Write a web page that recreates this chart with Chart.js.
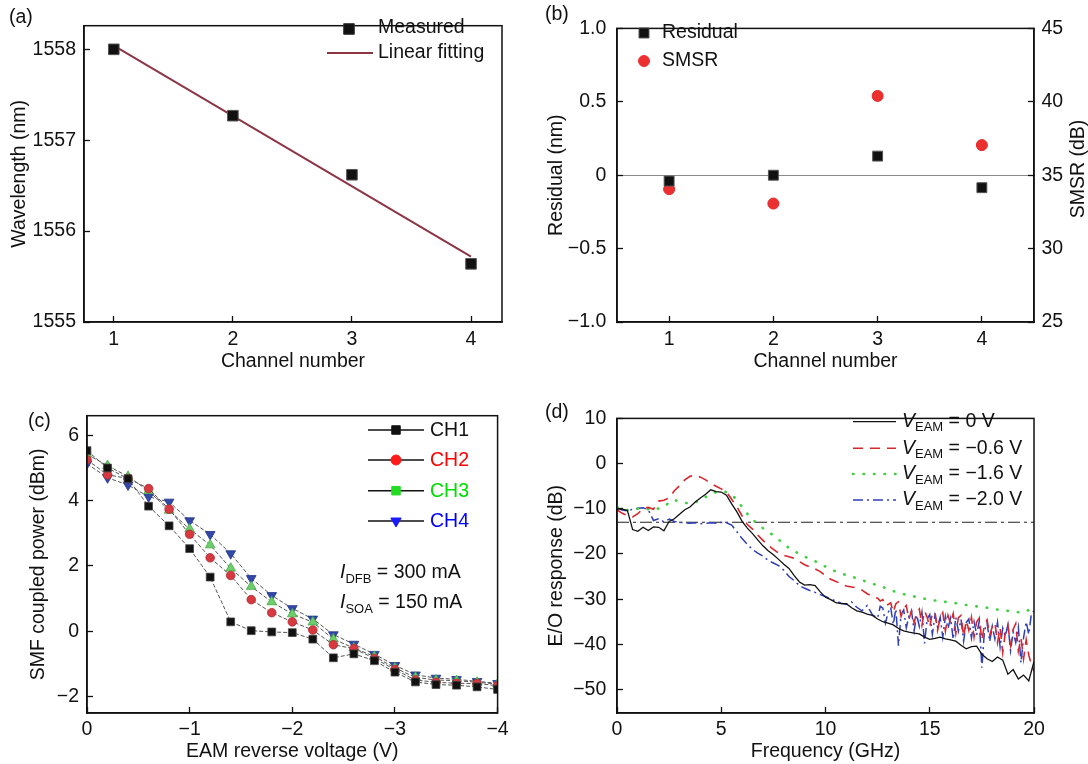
<!DOCTYPE html>
<html>
<head>
<meta charset="utf-8">
<script src="https://cdn.jsdelivr.net/npm/chart.js@4.4.1/dist/chart.umd.min.js"></script>
<style>
html, body { margin: 0; padding: 0; background: #fff; }
#wrap { position: relative; width: 1088px; height: 764px; overflow: hidden; }
canvas { position: absolute; }
</style>
</head>
<body>
<div id="wrap">
  <canvas id="ca" width="520" height="380" style="left:0;top:0"></canvas>
  <canvas id="cb" width="568" height="380" style="left:520px;top:0"></canvas>
  <canvas id="cc" width="520" height="374" style="left:0;top:390px"></canvas>
  <canvas id="cd" width="568" height="374" style="left:520px;top:390px"></canvas>
</div>
<script>
// ---- (a) wavelength vs channel
const channels = [1, 2, 3, 4];
const wavelengthNm = [1558.00, 1557.27, 1556.62, 1555.64];
const fitChannels = [1, 4];
const fitNm = [1558.04, 1555.72];
const aYTicks = [1555, 1556, 1557, 1558];

// ---- (b) residual + SMSR
const residualNm = [-0.04, 0.0, 0.13, -0.085];
const smsrDb = [34.05, 33.07, 40.4, 37.05];
const bLeftTicks = [-1, -0.5, 0, 0.5, 1];
const bRightTicks = [25, 30, 35, 40, 45];

// ---- (c) SMF coupled power vs EAM voltage
const chNames = ['CH1', 'CH2', 'CH3', 'CH4'];
const eamVolt = [0, -0.2, -0.4, -0.6, -0.8, -1.0, -1.2, -1.4, -1.6, -1.8, -2.0,
                 -2.2, -2.4, -2.6, -2.8, -3.0, -3.2, -3.4, -3.6, -3.8, -4.0];
const ch1 = [5.53, 5.0, 4.67, 3.83, 3.23, 2.53, 1.66, 0.29, 0.02, -0.02, -0.04,
             -0.24, -0.81, -0.69, -0.9, -1.25, -1.55, -1.63, -1.65, -1.7, -1.78];
const ch2 = [5.25, 4.79, 4.68, 4.37, 3.74, 2.97, 2.25, 1.71, 0.97, 0.57, 0.29,
             0.04, -0.41, -0.53, -0.83, -1.17, -1.49, -1.56, -1.59, -1.6, -1.66];
const ch3 = [5.42, 5.07, 4.74, 4.3, 3.7, 3.13, 2.64, 1.93, 1.37, 0.9, 0.53,
             0.28, -0.24, -0.51, -0.77, -1.12, -1.41, -1.49, -1.51, -1.56, -1.61];
const ch4 = [5.13, 4.7, 4.48, 4.12, 3.96, 3.39, 2.97, 2.38, 1.62, 1.1, 0.7,
             0.38, -0.1, -0.39, -0.7, -1.04, -1.33, -1.43, -1.47, -1.53, -1.59];
const cXTicks = [0, -1, -2, -3, -4];
const cYTicks = [-2, 0, 2, 4, 6];

// ---- (d) E/O response
const biasV = [0, -0.6, -1.6, -2.0];
const freqGHz = [0, 0.25, 0.5, 0.75, 1, 1.25, 1.5, 1.75, 2, 2.25, 2.5, 2.75, 3, 3.25, 3.5, 3.75,
  4, 4.25, 4.5, 4.75, 5, 5.25, 5.5, 5.75, 6, 6.25, 6.5, 6.75, 7, 7.25, 7.5, 7.75,
  8, 8.25, 8.5, 8.75, 9, 9.25, 9.5, 9.75, 10, 10.25, 10.5, 10.75, 11, 11.25, 11.5, 11.75,
  12, 12.25, 12.5, 12.75, 13, 13.25, 13.5, 13.75, 14, 14.25, 14.5, 14.75, 15, 15.25, 15.5, 15.75,
  16, 16.25, 16.5, 16.75, 17, 17.25, 17.5, 17.75, 18, 18.25, 18.5, 18.75, 19, 19.25, 19.5, 19.75, 20];
// finer sampling for the noisy high-frequency part of the -0.6 V and -2.0 V traces
const freqFine = [12.5, 12.625, 12.75, 12.875, 13, 13.125, 13.25, 13.375, 13.5, 13.625, 13.75, 13.875,
  14, 14.125, 14.25, 14.375, 14.5, 14.625, 14.75, 14.875, 15, 15.125, 15.25, 15.375, 15.5, 15.625, 15.75, 15.875,
  16, 16.125, 16.25, 16.375, 16.5, 16.625, 16.75, 16.875, 17, 17.125, 17.25, 17.375, 17.5, 17.625, 17.75, 17.875,
  18, 18.125, 18.25, 18.375, 18.5, 18.625, 18.75, 18.875, 19, 19.125, 19.25, 19.375, 19.5, 19.625, 19.75, 19.875, 20];
const eo0V = [-10.0, -10.1, -10.4, -14.6, -15.0, -14.1, -14.8, -14.0, -14.1, -14.9, -12.8, -12.2, -11.2, -10.2, -9.6, -8.5,
  -7.6, -6.8, -5.8, -6.2, -6.3, -7.0, -8.9, -10.7, -12.8, -14.3, -15.5, -16.9, -18.2, -19.3, -20.2, -21.2,
  -22.3, -23.2, -24.8, -26.2, -26.9, -26.8, -27.0, -28.4, -29.6, -30.1, -30.8, -31.0, -31.0, -31.9, -32.6, -32.9,
  -33.3, -33.6, -34.4, -35.0, -35.3, -35.7, -36.5, -37.0, -37.3, -37.5, -37.7, -38.4, -38.9, -38.7, -38.4, -38.8,
  -39.0, -39.3, -40.2, -41.0, -40.5, -40.4, -42.2, -43.2, -43.8, -42.8, -43.5, -46.6, -45.6, -47.7, -46.8, -48.1, -43.8];
const eo06VLow = [-10.2, -11.0, -11.5, -11.8, -11.1, -9.9, -9.7, -10.1, -8.3, -8.1, -7.6, -6.0, -4.9, -3.6, -2.8, -2.6,
  -3.0, -3.6, -4.4, -5.0, -5.6, -6.3, -7.9, -9.6, -11.6, -13.5, -14.5, -15.8, -17.0, -18.1, -19.0, -19.8,
  -20.3, -20.6, -21.0, -21.7, -22.4, -22.9, -23.3, -23.9, -24.8, -25.6, -26.1, -26.6, -27.1, -27.3, -27.5, -28.0,
  -28.8, -29.4];
const eo06VHigh = [-29.8, -30.4, -30.1, -31.5, -31.2, -30.8, -32.9, -31.0, -30.6, -33.8, -32.1, -31.4,
  -34.5, -32.6, -35.2, -33.0, -32.2, -35.8, -32.6, -34.0, -36.2, -33.1, -32.8, -36.9, -34.2, -33.0, -37.1, -33.6,
  -35.4, -33.2, -37.6, -34.1, -33.6, -38.3, -34.7, -36.9, -34.0, -38.4, -35.0, -34.2, -39.1, -35.6, -34.6, -38.0,
  -36.1, -35.2, -39.6, -36.3, -41.8, -37.4, -35.8, -40.2, -36.7, -35.4, -41.5, -38.6, -43.2, -39.0, -42.4, -44.5, -46.0];
const eo16V = [-9.6, -10.0, -10.3, -10.1, -10.0, -9.9, -10.1, -10.4, -9.9, -9.6, -8.6, -8.0, -8.5, -8.7, -8.8, -8.6,
  -8.1, -7.4, -6.8, -6.3, -6.1, -6.3, -6.9, -8.0, -9.6, -11.1, -12.4, -13.3, -14.3, -15.1, -15.9, -16.8,
  -17.8, -18.7, -19.4, -20.0, -20.6, -21.1, -21.6, -22.2, -22.8, -23.4, -23.9, -24.3, -24.7, -25.0, -25.4, -25.8,
  -26.2, -26.6, -26.9, -27.3, -27.8, -28.2, -28.6, -28.9, -29.2, -29.4, -29.7, -29.9, -30.1, -30.3, -30.4, -30.6,
  -30.8, -30.9, -31.1, -31.3, -31.5, -31.6, -31.7, -31.9, -32.1, -32.3, -32.4, -32.6, -32.8, -32.9, -33.0, -32.4, -31.8];
const eo20VLow = [-9.8, -10.3, -10.5, -10.1, -9.9, -9.8, -10.2, -12.6, -12.2, -12.9, -12.3, -12.8, -13.0, -13.1, -13.2, -13.1,
  -13.3, -13.2, -13.1, -13.2, -13.0, -13.1, -13.6, -15.1, -16.6, -17.9, -19.0, -19.8, -20.5, -21.4, -22.0, -22.6,
  -23.6, -25.0, -25.9, -27.0, -27.6, -28.1, -28.5, -29.0, -29.4, -30.0, -30.4, -30.9, -31.2, -30.6, -31.8, -32.6,
  -31.4, -33.5];
const eo20VHigh = [-34.2, -31.6, -32.0, -35.3, -33.0, -31.8, -35.6, -32.2, -40.3, -33.4, -32.4, -36.3,
  -33.8, -32.6, -37.0, -33.5, -36.0, -32.9, -39.8, -34.4, -33.4, -37.8, -33.6, -36.2, -34.0, -38.4, -33.8, -36.5,
  -34.2, -38.9, -34.0, -37.1, -34.5, -39.3, -35.2, -34.4, -38.6, -35.0, -37.9, -34.8, -45.2, -36.9, -35.3, -39.4,
  -36.0, -38.8, -35.1, -40.6, -36.4, -38.2, -35.6, -41.4, -37.3, -39.6, -36.2, -44.1, -38.5, -35.0, -37.8, -33.2, -32.6];
const refLevelDb = -13;
const dXTicks = [0, 5, 10, 15, 20];
const dYTicks = [-50, -40, -30, -20, -10, 0, 10];

// ---- shared styling
const FAMILY = "'Liberation Sans', Arial, sans-serif";
const SIZE = 19.5, SUB = 13;
const FONT = {family: FAMILY, size: SIZE};
const INK = '#111';
const minus = v => String(v).replace('-', '\u2212');
const pts = (xs, ys) => xs.map((x, i) => ({x: x, y: ys[i]}));

function axis(o) {
  return {
    type: 'linear', position: o.pos, min: o.min, max: o.max, reverse: !!o.reverse,
    afterBuildTicks: s => { s.ticks = o.ticks.map(v => ({value: v})); },
    afterFit: s => { if (s.isHorizontal()) s.height = o.size; else s.width = o.size; },
    border: {display: true, color: INK, width: 1.5},
    grid: {display: true, drawOnChartArea: !!o.grid, color: o.grid || 'rgba(0,0,0,0)',
           tickLength: -6, tickColor: INK, tickWidth: 1.3},
    ticks: {font: FONT, color: INK, padding: o.pad, callback: o.fmt || minus, maxRotation: 0, autoSkip: false},
    title: {display: !!o.title, text: o.title, font: FONT, color: INK,
            padding: o.pos === 'bottom' ? {top: 0, bottom: o.titlePad} : {top: o.titlePad, bottom: 0}}
  };
}

const frame = {
  id: 'frame',
  afterDraw(chart) {
    const {ctx, chartArea: a} = chart;
    ctx.save();
    ctx.strokeStyle = INK;
    ctx.lineWidth = 1.5;
    ctx.strokeRect(a.left, a.top, a.right - a.left, a.bottom - a.top);
    ctx.restore();
  }
};

function drawRich(ctx, it) {
  const fontOf = p => (p.it ? 'italic ' : '') + (p.sub ? SUB : SIZE) + 'px ' + FAMILY;
  let w = 0;
  it.parts.forEach(p => { ctx.font = fontOf(p); w += ctx.measureText(p.t).width; });
  ctx.translate(it.x, it.y);
  if (it.rot) ctx.rotate(it.rot * Math.PI / 180);
  let cx = it.align === 'center' ? -w / 2 : 0;
  ctx.textBaseline = 'middle';
  ctx.textAlign = 'left';
  it.parts.forEach(p => {
    ctx.font = fontOf(p);
    ctx.fillStyle = it.color || INK;
    ctx.fillText(p.t, cx, p.sub ? 6 : 0);
    cx += ctx.measureText(p.t).width;
  });
}

// legend samples and free texts drawn on top of the chart
function notes(items) {
  return {
    id: 'notes',
    afterDraw(chart) {
      const ctx = chart.ctx;
      items.forEach(it => {
        ctx.save();
        if (it.line) {
          ctx.strokeStyle = it.line.color;
          ctx.lineWidth = it.line.width;
          ctx.setLineDash(it.line.dash || []);
          ctx.lineCap = it.line.cap || 'butt';
          ctx.beginPath(); ctx.moveTo(it.x0, it.y); ctx.lineTo(it.x1, it.y); ctx.stroke();
          ctx.setLineDash([]);
        }
        if (it.marker) {
          const m = it.marker;
          ctx.fillStyle = m.fill;
          ctx.strokeStyle = m.stroke || m.fill;
          ctx.lineWidth = 1;
          Chart.helpers.drawPoint(ctx, {pointStyle: m.style, radius: m.radius, rotation: m.rotation || 0, borderWidth: 1}, it.mx, it.y);
        }
        if (it.parts) drawRich(ctx, it);
        ctx.restore();
      });
    }
  };
}
const txt = (x, y, s, extra) => Object.assign({x: x, y: y, parts: [{t: s}]}, extra || {});

const base = pad => ({
  responsive: false, animation: false, devicePixelRatio: 1,
  layout: {padding: pad},
  plugins: {legend: {display: false}, tooltip: {enabled: false}},
  elements: {line: {tension: 0}}
});

// ---------- (a)
new Chart(document.getElementById('ca'), {
  type: 'line',
  data: {datasets: [
    {data: pts(channels, wavelengthNm), showLine: false, pointStyle: 'rect', pointRadius: 7.5,
     pointBackgroundColor: '#111', pointBorderColor: '#555', pointBorderWidth: 1},
    {data: pts(fitChannels, fitNm), showLine: true, pointRadius: 0, borderColor: '#8c3545', borderWidth: 2}
  ]},
  options: Object.assign(base({left: 0, top: 15, right: 18, bottom: 0}), {
    scales: {
      x: axis({pos: 'bottom', min: 0.75, max: 4.26, ticks: channels, size: 58, pad: 11.6, title: 'Channel number', titlePad: 6.6}),
      y: axis({pos: 'left', min: 1555, max: 1558.26, ticks: aYTicks, size: 84, pad: 14, title: 'Wavelength (nm)', titlePad: 8.3})
    }
  }),
  plugins: [frame, notes([
    txt(9, 18, '(a)'),
    {mx: 349, y: 29, marker: {style: 'rect', radius: 7.5, fill: '#111', stroke: '#333'}},
    txt(378, 28, 'Measured'),
    {x0: 327, x1: 373, y: 53, line: {color: '#8c3545', width: 2}},
    txt(378, 53, 'Linear fitting')
  ])]
});

// ---------- (b)
new Chart(document.getElementById('cb'), {
  type: 'line',
  data: {datasets: [
    {data: pts(channels, residualNm), yAxisID: 'y', showLine: false, pointStyle: 'rect', pointRadius: 7,
     pointBackgroundColor: '#111', pointBorderColor: '#555', pointBorderWidth: 1},
    {data: pts(channels, smsrDb), yAxisID: 'y2', showLine: false, pointStyle: 'circle', pointRadius: 5.5,
     pointBackgroundColor: '#ec3030', pointBorderColor: '#e02828', pointBorderWidth: 1}
  ]},
  options: Object.assign(base({left: 0, top: 15, right: 0, bottom: 0}), {
    scales: {
      x: axis({pos: 'bottom', min: 0.5, max: 4.5, ticks: channels, size: 58, pad: 11.6, title: 'Channel number', titlePad: 6.6}),
      y: axis({pos: 'left', min: -1, max: 1, ticks: bLeftTicks, size: 97, pad: 16.7, title: 'Residual (nm)', titlePad: 24.7,
               fmt: v => v === 0 ? '0' : minus(v.toFixed(1)),
               grid: c => (c.tick && c.tick.value === 0) ? '#8a8a8a' : 'rgba(0,0,0,0)'}),
      y2: axis({pos: 'right', min: 25, max: 45, ticks: bRightTicks, size: 54, pad: 13.4})
    }
  }),
  plugins: [frame, notes([
    txt(25, 15, '(b)'),
    {mx: 124, y: 33, marker: {style: 'rect', radius: 7, fill: '#111', stroke: '#444'}},
    txt(142, 33, 'Residual'),
    {mx: 124, y: 61, marker: {style: 'circle', radius: 5.5, fill: '#ec3030'}},
    txt(142, 61, 'SMSR'),
    txt(559, 169, 'SMSR (dB)', {rot: -90, align: 'center'})
  ])]
});

// ---------- (c)
const chStyle = [
  {pointStyle: 'rect', pointRadius: 5.5, rot: 0, fill: '#111', edge: '#444', legend: '#111', legendMark: 'rect', text: '#111'},
  {pointStyle: 'circle', pointRadius: 4.3, rot: 0, fill: '#d63a40', edge: '#b02a30', legend: '#ff1a1a', legendMark: 'circle', text: '#ff0000'},
  {pointStyle: 'triangle', pointRadius: 5.6, rot: 0, fill: '#6ccf6c', edge: '#45a845', legend: '#22dd22', legendMark: 'rect', text: '#00dd00'},
  {pointStyle: 'triangle', pointRadius: 5.6, rot: 180, fill: '#3349a8', edge: '#22348a', legend: '#1a1aff', legendMark: 'triangle', text: '#0000ff'}
];
const chData = [ch1, ch2, ch3, ch4];
const legendRowsC = [40, 70, 100.7, 131];
new Chart(document.getElementById('cc'), {
  type: 'line',
  data: {datasets: chData.map((ys, i) => ({
    data: pts(eamVolt, ys), showLine: true, borderColor: '#555', borderWidth: 1, borderDash: [4, 2],
    pointStyle: chStyle[i].pointStyle, pointRadius: chStyle[i].pointRadius, pointRotation: chStyle[i].rot,
    pointBackgroundColor: chStyle[i].fill, pointBorderColor: chStyle[i].edge, pointBorderWidth: 0.8
  }))},
  options: Object.assign(base({left: 0, top: 15, right: 20, bottom: 0}), {
    scales: {
      x: axis({pos: 'bottom', min: -4, max: 0, reverse: true, ticks: cXTicks, size: 51, pad: 11.3, title: 'EAM reverse voltage (V)', titlePad: 0.6}),
      y: axis({pos: 'left', min: -2.5, max: 6.6, ticks: cYTicks, size: 87, pad: 14, title: 'SMF coupled power (dBm)', titlePad: 26.6})
    }
  }),
  plugins: [frame, notes([txt(28, 32, '(c)')].concat(
    chNames.flatMap((n, i) => [
      {x0: 368, x1: 424, y: legendRowsC[i], mx: 396, line: {color: '#111', width: 1.5},
       marker: {style: chStyle[i].legendMark, radius: chStyle[i].legendMark === 'circle' ? 5 : 6,
                rotation: chStyle[i].legendMark === 'triangle' ? 180 : 0, fill: chStyle[i].legend}},
      txt(430, legendRowsC[i] + 1, n, {color: chStyle[i].text})
    ]),
    [
      {x: 340, y: 183, parts: [{t: 'I', it: true}, {t: 'DFB', sub: true}, {t: ' = 300 mA'}]},
      {x: 340, y: 213, parts: [{t: 'I', it: true}, {t: 'SOA', sub: true}, {t: ' = 150 mA'}]}
    ]))]
});

// ---------- (d)
const nLow = eo06VLow.length;
const eoTraces = [
  pts(freqGHz, eo0V),
  pts(freqGHz.slice(0, nLow).concat(freqFine), eo06VLow.concat(eo06VHigh)),
  pts(freqGHz, eo16V),
  pts(freqGHz.slice(0, nLow).concat(freqFine), eo20VLow.concat(eo20VHigh))
];
const eoStyle = [
  {color: '#111111', width: 1.3, dash: [], cap: 'butt'},
  {color: '#d8262c', width: 1.6, dash: [10, 7], cap: 'butt'},
  {color: '#3fcf3f', width: 2.6, dash: [0.5, 10], cap: 'round'},
  {color: '#2f3fb8', width: 1.5, dash: [10, 4, 2, 4], cap: 'butt'}
];
const legendRowsD = [31.7, 58.3, 84, 110];
const vLabel = v => v === 0 ? '0 V' : minus(v.toFixed(1)) + ' V';
new Chart(document.getElementById('cd'), {
  type: 'line',
  data: {datasets: eoTraces.map((d, i) => ({
    data: d, showLine: true, pointRadius: 0, borderColor: eoStyle[i].color,
    borderWidth: eoStyle[i].width, borderDash: eoStyle[i].dash, borderCapStyle: eoStyle[i].cap
  })).concat([{
    data: pts([freqGHz[0], freqGHz[freqGHz.length - 1]], [refLevelDb, refLevelDb]), showLine: true, pointRadius: 0,
    borderColor: '#222', borderWidth: 1.1, borderDash: [12, 4, 3, 4]
  }])},
  options: Object.assign(base({left: 0, top: 15, right: 54, bottom: 0}), {
    scales: {
      x: axis({pos: 'bottom', min: 0, max: 20, ticks: dXTicks, size: 51, pad: 10.6, title: 'Frequency (GHz)', titlePad: 0.6}),
      y: axis({pos: 'left', min: -55.2, max: 10, ticks: dYTicks, size: 97, pad: 16.7, title: 'E/O response (dB)', titlePad: 24.7})
    }
  }),
  plugins: [frame, notes([txt(25, 23, '(d)')].concat(
    biasV.flatMap((v, i) => [
      {x0: 333, x1: 376, y: legendRowsD[i], line: {color: eoStyle[i].color, width: eoStyle[i].width, dash: eoStyle[i].dash, cap: eoStyle[i].cap}},
      {x: 382, y: legendRowsD[i], parts: [{t: 'V', it: true}, {t: 'EAM', sub: true}, {t: ' = ' + vLabel(v)}]}
    ])))]
});
</script>
</body>
</html>
